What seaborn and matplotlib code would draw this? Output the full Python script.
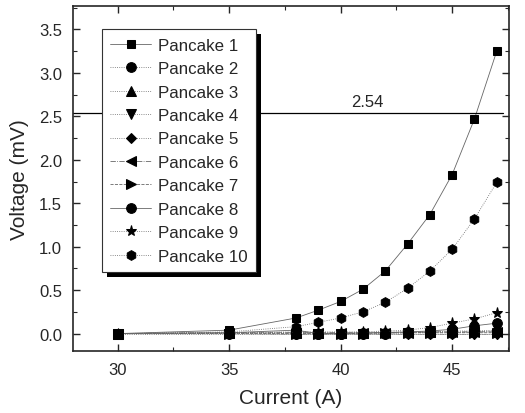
import matplotlib
matplotlib.use("Agg")
import matplotlib.pyplot as plt
import seaborn as sns
import pandas as pd
from matplotlib.ticker import MultipleLocator
from matplotlib.patches import Rectangle

current = [30, 35, 38, 39, 40, 41, 42, 43, 44, 45, 46, 47]
p1 = [0.0, 0.04, 0.18, 0.27, 0.37, 0.51, 0.72, 1.03, 1.37, 1.83, 2.47, 3.25]
p2 = [0.0, 0.0, 0.0, 0.0, 0.0, 0.0, 0.0, 0.01, 0.01, 0.01, 0.02, 0.03]
p3 = [0.0, 0.01, 0.01, 0.01, 0.01, 0.01, 0.02, 0.02, 0.02, 0.03, 0.03, 0.04]
p4 = [0.0, 0.0, -0.01, -0.01, -0.01, -0.01, -0.01, -0.01, -0.01, -0.01, -0.01, -0.01]
p5 = [0.0, 0.0, 0.0, 0.0, 0.0, 0.0, 0.0, 0.0, 0.0, 0.0, 0.0, 0.0]
p6 = [0.0, 0.01, 0.01, 0.01, 0.01, 0.01, 0.01, 0.01, 0.02, 0.02, 0.02, 0.02]
p7 = [0.0, 0.0, 0.0, 0.0, 0.0, 0.0, 0.01, 0.01, 0.01, 0.01, 0.01, 0.01]
p8 = [0.0, 0.01, 0.04, 0.0, 0.0, 0.01, 0.01, 0.02, 0.03, 0.05, 0.09, 0.12]
p9 = [0.0, 0.01, 0.02, 0.02, 0.02, 0.02, 0.03, 0.04, 0.07, 0.12, 0.17, 0.24]
p10 = [0.0, 0.02, 0.08, 0.13, 0.18, 0.25, 0.36, 0.52, 0.72, 0.97, 1.32, 1.74]
series = [p1, p2, p3, p4, p5, p6, p7, p8, p9, p10]
labels = [f"Pancake {i}" for i in range(1, 11)]
markers = ["s", "o", "^", "v", "D", "<", ">", "o", "*", "h"]
styles = ["-", ":", ":", ":", ":", "-.", "--", "-", ":", ":"]
threshold = 2.54

sns.set_style("ticks")
plt.rcParams["font.family"] = ["Liberation Sans", "DejaVu Sans"]

fig = plt.figure(figsize=(5.25, 4.14), dpi=100)
ax = fig.add_axes([73 / 525, 1 - 352 / 414, (509 - 73) / 525, (352 - 7) / 414])

sizes = {"s": 6, "o": 7, "^": 7, "v": 7, "D": 5.5, "<": 7, ">": 7, "*": 8, "h": 7}
for y, lab, m, ls in zip(series, labels, markers, styles):
    df = pd.DataFrame({"Current": current, "Voltage": y})
    sns.lineplot(data=df, x="Current", y="Voltage", ax=ax, color="#666666",
                 linestyle=ls, linewidth=0.6, marker=m, markersize=sizes[m],
                 markeredgecolor="black", markerfacecolor="black", label=lab)

ax.plot([28, 47.3], [threshold, threshold], color="black", linewidth=0.9)
ax.text(41.2, 2.67, f"{threshold:.2f}", ha="center", va="center", fontsize=12)

ax.set_xlim(28, 47.55)
ax.set_ylim(-0.2, 3.77)
ax.xaxis.set_major_locator(MultipleLocator(5))
ax.xaxis.set_minor_locator(MultipleLocator(2.5))
ax.yaxis.set_major_locator(MultipleLocator(0.5))
ax.yaxis.set_minor_locator(MultipleLocator(0.25))
ax.tick_params(which="both", direction="in", top=True, right=True, labelsize=12)
ax.tick_params(which="major", length=5, width=1, pad=8)
ax.tick_params(which="minor", length=3, width=0.8)
ax.set_xlabel("Current (A)", fontsize=15, labelpad=8)
ax.set_ylabel("Voltage (mV)", fontsize=15, labelpad=7)
for s in ax.spines.values():
    s.set_linewidth(1.2)

leg = ax.legend(loc="upper left", bbox_to_anchor=(0.0665, 0.933), borderaxespad=0,
                fontsize=12.2, frameon=True, fancybox=False, edgecolor="#333333",
                labelspacing=0.5, handlelength=2.4, borderpad=0.5,
                handletextpad=0.4, framealpha=1)
leg.get_frame().set_linewidth(0.8)
leg.set_zorder(6)

fig.canvas.draw()
bb = leg.get_window_extent()
W, H = fig.bbox.width, fig.bbox.height
off = 5
shadow = Rectangle(((bb.x0 + off) / W, (bb.y0 - off) / H), bb.width / W, bb.height / H,
                   transform=fig.transFigure, facecolor="black", edgecolor="none", zorder=5)
ax.add_artist(shadow)

fig.savefig("out.png", dpi=100)
